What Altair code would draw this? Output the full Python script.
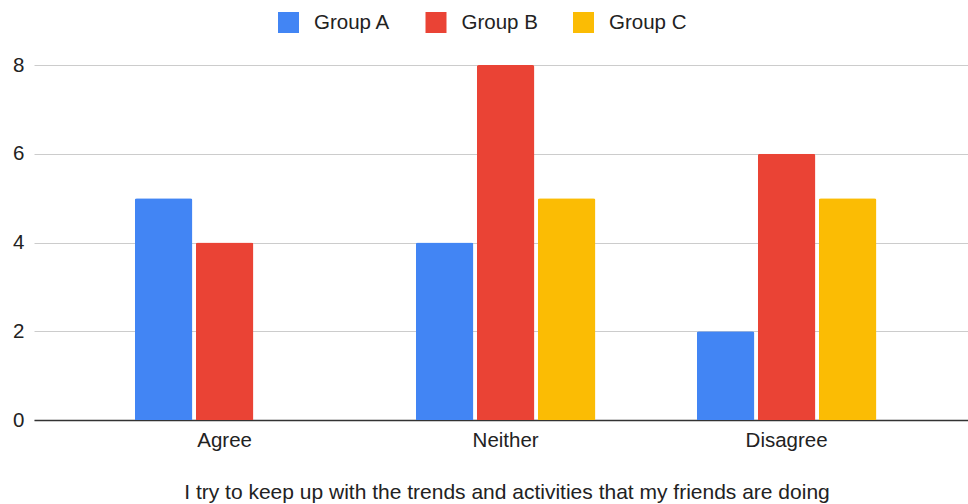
import altair as alt
import pandas as pd

categories = ["Agree", "Neither", "Disagree"]
groups = ["Group A", "Group B", "Group C"]
group_a = [5, 4, 2]
group_b = [4, 8, 6]
group_c = [None, 5, 5]
colors = ["#4285F4", "#EA4335", "#FBBC04"]
y_ticks = [0, 2, 4, 6, 8]
x_title = "I try to keep up with the trends and activities that my friends are doing"

rows = []
for g, vals in zip(groups, [group_a, group_b, group_c]):
    for c, v in zip(categories, vals):
        if v is not None:
            rows.append({"Response": c, "Group": g, "Count": v})
df = pd.DataFrame(rows)

font = "Liberation Sans"

chart = alt.Chart(df).mark_bar(cornerRadiusTopLeft=2, cornerRadiusTopRight=2).encode(
    x=alt.X(
        "Response:N", sort=categories,
        scale=alt.Scale(paddingInner=0.361, paddingOuter=0.3424, align=0.524),
        axis=alt.Axis(
            title=x_title, labelAngle=0, ticks=False, domainColor="#333", domainWidth=1.5,
            labelPadding=10, labelFontSize=20.5, labelColor="#222",
            titleFontSize=21, titleFontWeight="normal", titleColor="#222",
            titleBaseline="alphabetic", titleY=78, titleX=472.5, titleAlign="center", grid=False,
        ),
    ),
    xOffset=alt.XOffset("Group:N", sort=groups,
                        scale=alt.Scale(domain=groups, paddingInner=0.057, paddingOuter=0)),
    y=alt.Y(
        "Count:Q", scale=alt.Scale(domain=[0, 8], nice=False),
        axis=alt.Axis(values=y_ticks, title=None, domain=False, ticks=False, labelPadding=10,
                      labelFontSize=20.5, labelColor="#222", gridColor="#ccc", format="d"),
    ),
    color=alt.Color(
        "Group:N", scale=alt.Scale(domain=groups, range=colors),
        legend=alt.Legend(
            title=None, orient="none", direction="horizontal", legendX=244, legendY=-53,
            symbolType="square", symbolSize=441, symbolStrokeWidth=0, symbolOpacity=1,
            labelFontSize=20.5, labelColor="#222", labelOffset=15, columnPadding=34.5,
        ),
    ),
).properties(
    width=934, height=355,
    autosize=alt.AutoSizeParams(type="none"),
    padding={"left": 34, "top": 65, "right": 0, "bottom": 84},
).configure(font=font).configure_view(stroke=None)

chart.save("out.html", embed_options={"renderer": "svg", "actions": False})
